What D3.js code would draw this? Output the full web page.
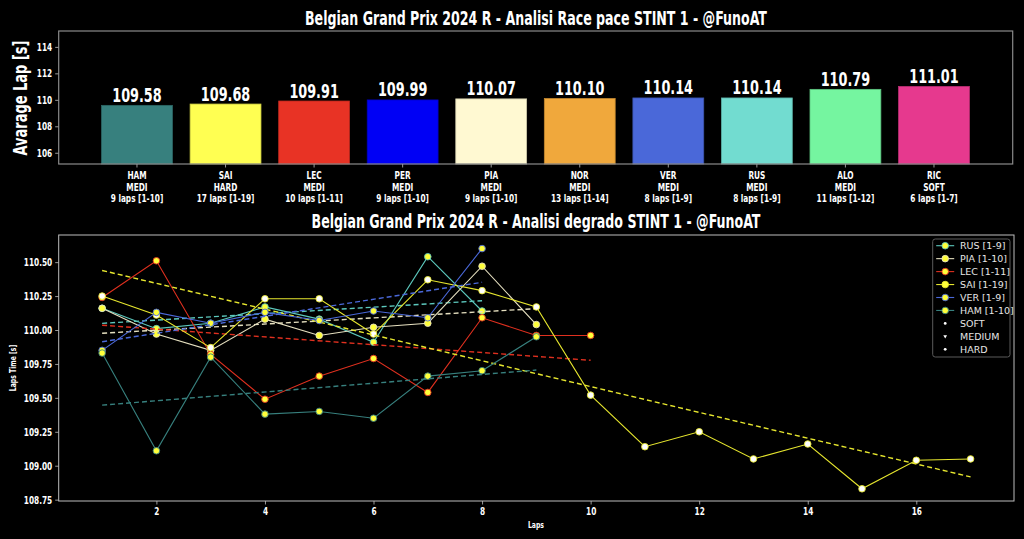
<!DOCTYPE html>
<html>
<head>
<meta charset="utf-8">
<script src="https://cdn.jsdelivr.net/npm/d3@7"></script>
<style>
  html, body { margin: 0; padding: 0; background: #000; }
  svg { display: block; }
  .cond { font-family: Impact, 'Liberation Sans Narrow', 'DejaVu Sans Condensed', sans-serif; font-weight: bold; fill: #fff; }
  .leg { font-family: 'DejaVu Sans', sans-serif; font-size: 9.5px; fill: #e6e6e6; }
</style>
</head>
<body>
<svg id="chart" width="1024" height="539"></svg>
<script>
// --- bar chart data (average pace, stint 1)
var barDrivers = ['HAM', 'SAI', 'LEC', 'PER', 'PIA', 'NOR', 'VER', 'RUS', 'ALO', 'RIC']
var barAvg = [109.58, 109.68, 109.91, 109.99, 110.07, 110.10, 110.14, 110.14, 110.79, 111.01]
var barCompound = ['MEDI', 'HARD', 'MEDI', 'MEDI', 'MEDI', 'MEDI', 'MEDI', 'MEDI', 'MEDI', 'SOFT']
var barLapInfo = ['9 laps [1-10]', '17 laps [1-19]', '10 laps [1-11]', '9 laps [1-10]', '9 laps [1-10]',
  '13 laps [1-14]', '8 laps [1-9]', '8 laps [1-9]', '11 laps [1-12]', '6 laps [1-7]']
var barColors = ['#37807e', '#ffff52', '#e83325', '#0000f5', '#fff9d2', '#f0a83c', '#4a68d9', '#72dcd0', '#75f5a0', '#e6398e']
var barYTicks = [106, 108, 110, 112, 114]

// --- degradation data (lap times per driver)
var lapsRUS = [110.16, 110.01, 110.05, 110.17, 110.08, 109.91, 110.54, 110.14]
var lapsPIA = [110.16, 109.97, 109.85, 110.08, 109.96, 110.02, 110.05, 110.47, 110.04]
var lapsLEC = [110.24, 110.51, 109.82, 109.49, 109.66, 109.79, 109.54, 110.09, 109.96, 109.96]
var lapsSAI = [110.25, 110.11, 109.87, 110.23, 110.23, 109.97, 110.37, 110.29, 110.17, 109.52,
  109.14, 109.25, 109.05, 109.16, 108.83, 109.04, 109.05]
var lapsVER = [109.85, 110.13, 110.05, 110.13, 110.07, 110.14, 110.09, 110.60]
var lapsHAM = [109.83, 109.11, 109.80, 109.38, 109.40, 109.35, 109.66, 109.70, 109.95]
var lineNames = ['RUS [1-9]', 'PIA [1-10]', 'LEC [1-11]', 'SAI [1-19]', 'VER [1-9]', 'HAM [1-10]']
var lineColors = ['#5cc8bd', '#e6e0c0', '#e0301f', '#e6e62e', '#4a68d9', '#37807e']
var lineCompounds = ['MEDIUM', 'MEDIUM', 'MEDIUM', 'HARD', 'MEDIUM', 'MEDIUM']
var lapXTicks = [2, 4, 6, 8, 10, 12, 14, 16]
var lapYTicks = [108.75, 109.00, 109.25, 109.50, 109.75, 110.00, 110.25, 110.50]
var compoundNames = ['SOFT', 'MEDIUM', 'HARD']

var compoundFill = { SOFT: '#ff3030', MEDIUM: '#ffff3a', HARD: '#ffffff' }

var svg = d3.select('#chart')
svg.append('rect').attr('width', 1024).attr('height', 539).attr('fill', '#000')

// squeeze the fallback font towards the narrow look of the original
function condense (sel, k) {
  sel.each(function () {
    var w = this.getComputedTextLength()
    d3.select(this).attr('textLength', w * k).attr('lengthAdjust', 'spacingAndGlyphs')
  })
}

function styleAxis (g) {
  g.select('.domain').remove()
  g.selectAll('.tick line').attr('stroke', '#9a9a9a').attr('stroke-width', 1)
  g.selectAll('.tick text').attr('class', 'cond').attr('font-size', 10.5).attr('fill', '#fff')
  condense(g.selectAll('.tick text'), 0.78)
}

// ================= TOP: bar chart =================
var bx = d3.scaleLinear().domain([-0.884, 9.889]).range([58.7, 1012.7])
var by = d3.scaleLinear().domain([105.15, 115.2]).range([164, 31])
var barG = svg.append('g')

barG.append('text').attr('class', 'cond').attr('x', 536).attr('y', 25)
  .attr('text-anchor', 'middle').attr('font-size', 20)
  .text('Belgian Grand Prix 2024 R - Analisi Race pace STINT 1 - @FunoAT')
  .call(condense, 0.7)

barG.append('text').attr('class', 'cond')
  .attr('transform', 'translate(27,98) rotate(-90)')
  .attr('text-anchor', 'middle').attr('font-size', 19)
  .text('Avarage Lap [s]')
  .call(condense, 0.76)

var barW = bx(0.8) - bx(0)
barG.selectAll('rect.bar').data(barAvg).enter().append('rect')
  .attr('class', 'bar')
  .attr('x', function (d, i) { return bx(i - 0.4) })
  .attr('width', barW)
  .attr('y', function (d) { return by(d) })
  .attr('height', function (d) { return by.range()[0] - by(d) })
  .attr('fill', function (d, i) { return barColors[i] })
  .attr('stroke', function (d, i) { return d3.color(barColors[i]).darker(0.6) })
  .attr('stroke-width', 0.8)

barG.selectAll('text.val').data(barAvg).enter().append('text')
  .attr('class', 'cond')
  .attr('x', function (d, i) { return bx(i) })
  .attr('y', function (d) { return by(d) - 3.5 })
  .attr('text-anchor', 'middle').attr('font-size', 19.5)
  .text(function (d) { return d.toFixed(2) })
  .call(condense, 0.73)

barG.append('rect').attr('x', 58.7).attr('y', 31).attr('width', 1012.7 - 58.7).attr('height', 133)
  .attr('fill', 'none').attr('stroke', '#8a8a8a').attr('stroke-width', 1.2)

barG.append('g').attr('transform', 'translate(58.7,0)')
  .call(d3.axisLeft(by).tickValues(barYTicks).tickSize(3.5).tickPadding(3).tickFormat(d3.format('d')))
  .call(styleAxis)

var xt = barG.append('g')
xt.selectAll('line').data(barDrivers).enter().append('line')
  .attr('x1', function (d, i) { return bx(i) }).attr('x2', function (d, i) { return bx(i) })
  .attr('y1', 164).attr('y2', 167.5).attr('stroke', '#9a9a9a')
var tickRows = [barDrivers, barCompound, barLapInfo]
tickRows.forEach(function (row, r) {
  xt.selectAll('text.row' + r).data(row).enter().append('text')
    .attr('class', 'cond row' + r).attr('font-size', 10.5).attr('text-anchor', 'middle')
    .attr('x', function (d, i) { return bx(i) })
    .attr('y', 179 + r * 11.5)
    .text(function (d) { return d })
    .call(condense, 0.78)
})

// ================= BOTTOM: degradation =================
var lx = d3.scaleLinear().domain([0.2, 17.8]).range([58.7, 1014])
var ly = d3.scaleLinear().domain([108.74, 110.70]).range([501, 235])
var degG = svg.append('g')

degG.append('text').attr('class', 'cond').attr('x', 536).attr('y', 228)
  .attr('text-anchor', 'middle').attr('font-size', 20)
  .text('Belgian Grand Prix 2024 R - Analisi degrado STINT 1 - @FunoAT')
  .call(condense, 0.7)

degG.append('text').attr('class', 'cond')
  .attr('transform', 'translate(16,368) rotate(-90)')
  .attr('text-anchor', 'middle').attr('font-size', 8.5)
  .text('Laps Time [s]')
  .call(condense, 0.8)
degG.append('text').attr('class', 'cond').attr('x', 536).attr('y', 528)
  .attr('text-anchor', 'middle').attr('font-size', 8.5).text('Laps')
  .call(condense, 0.8)

degG.append('g').attr('transform', 'translate(58.7,0)')
  .call(d3.axisLeft(ly).tickValues(lapYTicks).tickSize(3.5).tickPadding(3).tickFormat(d3.format('.2f')))
  .call(styleAxis)
degG.append('g').attr('transform', 'translate(0,501)')
  .call(d3.axisBottom(lx).tickValues(lapXTicks).tickSize(3.5).tickPadding(3).tickFormat(d3.format('d')))
  .call(styleAxis)

var plot = degG.append('g')
var series = [lapsRUS, lapsPIA, lapsLEC, lapsSAI, lapsVER, lapsHAM]

// least squares trend over the stint
function fit (vals) {
  var n = vals.length
  var mx = (n + 1) / 2
  var my = d3.mean(vals)
  var sxy = 0
  var sxx = 0
  vals.forEach(function (v, i) {
    sxy += (i + 1 - mx) * (v - my)
    sxx += (i + 1 - mx) * (i + 1 - mx)
  })
  var b = sxy / sxx
  return [{ lap: 1, t: my + b * (1 - mx) }, { lap: n, t: my + b * (n - mx) }]
}

var line = d3.line().x(function (d) { return lx(d.lap) }).y(function (d) { return ly(d.t) })

series.forEach(function (vals, k) {
  var pts = vals.map(function (v, i) { return { lap: i + 1, t: v } })
  var g = plot.append('g')
  g.append('path').attr('d', line(pts)).attr('fill', 'none')
    .attr('stroke', lineColors[k]).attr('stroke-width', 1.1)
  g.selectAll('circle').data(pts).enter().append('circle')
    .attr('cx', function (d) { return lx(d.lap) })
    .attr('cy', function (d) { return ly(d.t) })
    .attr('r', 3.3)
    .attr('fill', compoundFill[lineCompounds[k]])
    .attr('stroke', lineColors[k]).attr('stroke-width', 0.9)
  g.append('path').attr('d', line(fit(vals))).attr('fill', 'none')
    .attr('stroke', lineColors[k]).attr('stroke-width', 1.4)
    .attr('stroke-dasharray', '5,3')
})

degG.append('rect').attr('x', 58.7).attr('y', 235).attr('width', 1014 - 58.7).attr('height', 266)
  .attr('fill', 'none').attr('stroke', '#bdbdbd').attr('stroke-width', 1)

// legend
var leg = degG.append('g').attr('transform', 'translate(932.7,239)')
leg.append('rect').attr('width', 77.3).attr('height', 118).attr('rx', 2.5)
  .attr('fill', '#000').attr('fill-opacity', 0.8).attr('stroke', '#5a5a5a').attr('stroke-width', 1)
lineNames.forEach(function (name, k) {
  var y = 6.7 + k * 12.95
  leg.append('line').attr('x1', 3.5).attr('x2', 21.5).attr('y1', y).attr('y2', y)
    .attr('stroke', lineColors[k]).attr('stroke-width', 1.1)
  leg.append('circle').attr('cx', 12.5).attr('cy', y).attr('r', 3.3)
    .attr('fill', compoundFill.MEDIUM).attr('stroke', lineColors[k]).attr('stroke-width', 0.9)
  leg.append('text').attr('class', 'leg').attr('x', 27.3).attr('y', y + 3.4).text(name)
})
compoundNames.forEach(function (name, j) {
  var y = 6.7 + (j + 6) * 12.95
  if (name === 'MEDIUM') {
    leg.append('path').attr('d', d3.symbol().type(d3.symbolTriangle).size(6)())
      .attr('transform', 'translate(12.5,' + y + ') rotate(180)').attr('fill', '#fff')
  } else {
    leg.append('circle').attr('cx', 12.5).attr('cy', y).attr('r', 1.4).attr('fill', '#fff')
  }
  leg.append('text').attr('class', 'leg').attr('x', 27.3).attr('y', y + 3.4).text(name)
})
</script>
</body>
</html>
